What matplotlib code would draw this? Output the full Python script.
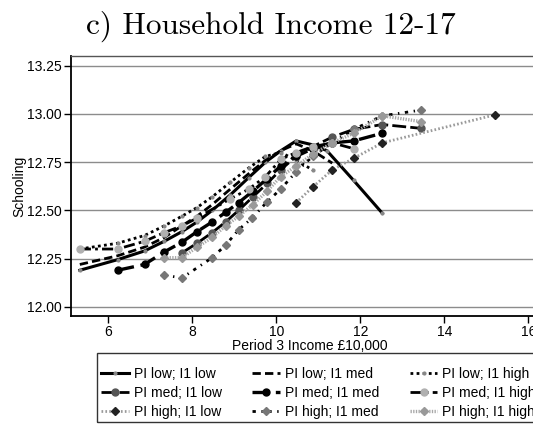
import matplotlib
matplotlib.use("Agg")
import matplotlib.pyplot as plt
from matplotlib.patches import Rectangle

plt.rcParams['font.family'] = ['Liberation Sans', 'DejaVu Sans']

# ---------------------- data ----------------------
x_lowlow = [5.32, 6.22, 6.86, 7.33, 7.75, 8.11, 8.47, 8.9, 9.34, 9.74, 10.11, 10.47, 10.86, 11.2, 11.84, 12.52]
y_lowlow = [12.19, 12.245, 12.29, 12.34, 12.39, 12.44, 12.50, 12.58, 12.67, 12.75, 12.81, 12.86, 12.84, 12.81, 12.655, 12.486]

x_lowmed = [5.32, 6.22, 6.86, 7.33, 7.75, 8.11, 8.47, 8.9, 9.34, 9.74, 10.11, 10.47, 10.86, 11.33]
y_lowmed = [12.22, 12.265, 12.31, 12.36, 12.42, 12.47, 12.53, 12.61, 12.69, 12.76, 12.81, 12.845, 12.81, 12.745]

x_lowhigh = [5.32, 6.22, 6.86, 7.33, 7.75, 8.11, 8.47, 8.9, 9.34, 9.74, 10.11, 10.47, 10.86]
y_lowhigh = [12.30, 12.33, 12.37, 12.42, 12.47, 12.515, 12.57, 12.645, 12.72, 12.78, 12.80, 12.76, 12.71]

x_medlow = [7.75, 8.11, 8.47, 8.79, 9.1, 9.44, 9.78, 10.1, 10.47, 10.86, 11.33, 11.84, 12.52, 13.45]
y_medlow = [12.28, 12.33, 12.385, 12.44, 12.50, 12.57, 12.64, 12.71, 12.78, 12.83, 12.88, 12.92, 12.945, 12.925]

x_medmed = [6.22, 6.86, 7.33, 7.75, 8.11, 8.47, 8.79, 9.1, 9.44, 9.78, 10.1, 10.47, 10.86, 11.33, 11.84, 12.52]
y_medmed = [12.19, 12.22, 12.285, 12.335, 12.39, 12.44, 12.49, 12.54, 12.60, 12.665, 12.73, 12.78, 12.82, 12.85, 12.86, 12.90]

x_medhigh = [5.32, 6.22, 6.86, 7.33, 7.75, 8.11, 8.9, 9.34, 9.74, 10.11, 10.47, 10.86, 11.33, 11.84]
y_medhigh = [12.30, 12.30, 12.34, 12.385, 12.42, 12.46, 12.56, 12.61, 12.675, 12.765, 12.80, 12.83, 12.85, 12.82]

x_highlow = [10.47, 10.86, 11.33, 11.84, 12.52, 15.2]
y_highlow = [12.54, 12.62, 12.71, 12.77, 12.85, 12.995]

x_highmed = [7.33, 7.75, 8.47, 8.79, 9.1, 9.42, 9.78, 10.1, 10.47, 10.86, 11.33, 11.84, 12.52, 13.45]
y_highmed = [12.165, 12.15, 12.255, 12.32, 12.40, 12.46, 12.545, 12.61, 12.70, 12.78, 12.85, 12.92, 12.99, 13.02]

x_highhigh = [7.33, 7.75, 8.11, 8.47, 8.79, 9.1, 9.44, 9.78, 10.1, 10.47, 10.86, 11.33, 11.84, 12.52, 13.45]
y_highhigh = [12.255, 12.255, 12.31, 12.36, 12.42, 12.47, 12.53, 12.60, 12.675, 12.73, 12.79, 12.85, 12.90, 12.99, 12.96]

labels = ["PI low; I1 low", "PI low; I1 med", "PI low; I1 high",
          "PI med; I1 low", "PI med; I1 med", "PI med; I1 high",
          "PI high; I1 low", "PI high; I1 med", "PI high; I1 high"]

xticks = [6, 8, 10, 12, 14, 16]
yticks = [12.00, 12.25, 12.50, 12.75, 13.00, 13.25]

# ---------------------- plot ----------------------
fig = plt.figure(figsize=(5.33, 4.25), dpi=100)
ax = fig.add_axes([71 / 533, 109 / 425, 478 / 533, 260 / 425])

styles = [
    dict(color='black', lw=2.2, ls='-', marker='o', ms=2, mfc='#888888', mec='#888888'),
    dict(color='black', lw=2.0, ls=(0, (3, 1.5))),
    dict(color='black', lw=2.0, ls=(0, (1, 1.2)), marker='o', ms=2, mfc='#888888', mec='#888888'),
    dict(color='black', lw=2.0, ls=(0, (5, 1.5)), marker='o', ms=5, mfc='#555555', mec='#555555'),
    dict(color='black', lw=2.4, ls=(0, (5, 2)), marker='o', ms=5, mfc='black', mec='black'),
    dict(color='black', lw=2.0, ls=(0, (4, 1.5, 1, 1.5)), marker='o', ms=5, mfc='#b0b0b0', mec='#b0b0b0'),
    dict(color='#9a9a9a', lw=2.0, ls=(0, (0.6, 0.8)), marker='D', ms=4.5, mfc='#222222', mec='#222222'),
    dict(color='black', lw=2.0, ls=(0, (1.2, 2, 0.5, 2)), marker='D', ms=4.5, mfc='#777777', mec='#777777'),
    dict(color='#a8a8a8', lw=2.4, ls=(0, (0.4, 0.4)), marker='D', ms=4.5, mfc='#999999', mec='#999999'),
]
xs = [x_lowlow, x_lowmed, x_lowhigh, x_medlow, x_medmed, x_medhigh, x_highlow, x_highmed, x_highhigh]
ys = [y_lowlow, y_lowmed, y_lowhigh, y_medlow, y_medmed, y_medhigh, y_highlow, y_highmed, y_highhigh]

handles = []
for xv, yv, st, lab in zip(xs, ys, styles, labels):
    h, = ax.plot(xv, yv, label=lab, **st)
    handles.append(h)

ax.set_xlim(5.11, 16.49)
ax.set_ylim(11.953, 13.30)
ax.set_xticks(xticks)
ax.set_yticks(yticks)
ax.set_yticklabels(["%.2f" % v for v in yticks])
ax.yaxis.grid(True, color='#8c8c8c', lw=1.0)
ax.set_axisbelow(True)
ax.tick_params(direction='out', length=5, width=1, labelsize=10, colors='black')
ax.tick_params(axis='y', pad=1.5)
ax.tick_params(axis='x', pad=1.5)
for side in ['left', 'bottom']:
    ax.spines[side].set_color('black')
    ax.spines[side].set_linewidth(1.3)
ax.spines['top'].set_color('#555555')
ax.spines['top'].set_linewidth(1.0)
ax.spines['right'].set_visible(False)

ax.set_xlabel('Period 3 Income £10,000', fontsize=10, labelpad=0)
ax.set_ylabel('Schooling', fontsize=10)
ax.yaxis.set_label_coords(-0.094, 0.5)

fig.text(271 / 533, 1 - 26 / 425, 'c) Household Income 12-17', family='cmr10',
         fontsize=22.5, ha='center', va='center')

# legend frame drawn as a plain box, entries placed inside it
fig.patches.append(Rectangle((97 / 533, 1 - 422 / 425), 470 / 533, 69 / 425,
                             transform=fig.transFigure, fill=False,
                             edgecolor='#333333', lw=1.0))
order = [0, 3, 6, 1, 4, 7, 2, 5, 8]
leg = fig.legend([handles[i] for i in order], [labels[i] for i in order],
                 ncol=3, loc='upper left', bbox_to_anchor=(101 / 533, 1 - 367 / 425),
                 fontsize=10, frameon=False,
                 handlelength=2.0, handletextpad=0.35, columnspacing=2.2,
                 labelspacing=0.35, borderpad=0.0, borderaxespad=0)

fig.savefig('out.png', dpi=100)
